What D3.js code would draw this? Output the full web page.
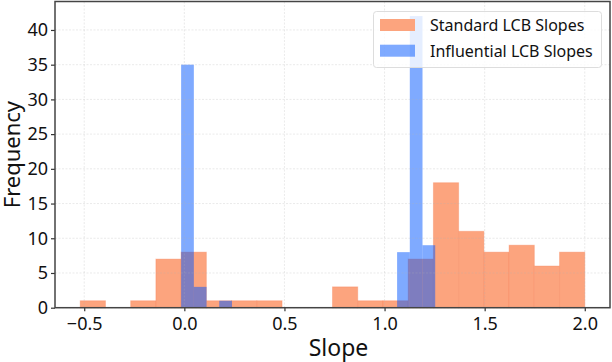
<!DOCTYPE html>
<html>
<head>
<meta charset="utf-8">
<script src="https://d3js.org/d3.v7.min.js"></script>
<style>
  body { margin: 0; background: #fff; }
  text { font-family: "Noto Sans", "Open Sans", sans-serif; fill: #111; }
</style>
</head>
<body>
<div id="chart"></div>
<script>
// histogram counts, 20 bins each
var standardRange = [-0.52, 2.0];
var standardCounts = [1, 0, 1, 7, 8, 1, 1, 1, 0, 0, 3, 1, 1, 7, 18, 11, 8, 9, 6, 8];
var influentialRange = [-0.016, 1.253];
var influentialCounts = [35, 3, 0, 1, 0, 0, 0, 0, 0, 0, 0, 0, 0, 0, 0, 0, 0, 8, 42, 9];
var xTicks = [-0.5, 0.0, 0.5, 1.0, 1.5, 2.0];
var yTicks = [0, 5, 10, 15, 20, 25, 30, 35, 40];
var seriesNames = ["Standard LCB Slopes", "Influential LCB Slopes"];

var width = 612, height = 362;
var margin = {top: 1.5, right: 2, bottom: 54.3, left: 55};

var svg = d3.select("#chart").append("svg")
    .attr("width", width)
    .attr("height", height);

var gw = width - margin.left - margin.right;
var gh = height - margin.top - margin.bottom;

var x = d3.scaleLinear().domain([-0.646, 2.126]).range([0, gw]);
var y = d3.scaleLinear().domain([0, 44.1]).range([gh, 0]);

var g = svg.append("g").attr("transform", "translate(" + margin.left + "," + margin.top + ")");

// turn a range + counts into bins
function toBins(range, counts) {
    var w = (range[1] - range[0]) / counts.length;
    return counts.map(function(c, i) {
        return {x0: range[0] + i * w, x1: range[0] + (i + 1) * w, n: c};
    });
}

var standardBins = toBins(standardRange, standardCounts);
var influentialBins = toBins(influentialRange, influentialCounts);

g.selectAll(".std")
    .data(standardBins.filter(function(d) { return d.n > 0; }))
    .enter().append("rect")
    .attr("class", "std")
    .attr("x", function(d) { return x(d.x0); })
    .attr("y", function(d) { return y(d.n); })
    .attr("width", function(d) { return x(d.x1) - x(d.x0); })
    .attr("height", function(d) { return y(0) - y(d.n); })
    .attr("fill", "#fca47e")
    .attr("stroke", "rgba(245,130,85,0.35)")
    .attr("stroke-width", 1);

g.selectAll(".inf")
    .data(influentialBins.filter(function(d) { return d.n > 0; }))
    .enter().append("rect")
    .attr("class", "inf")
    .attr("x", function(d) { return x(d.x0); })
    .attr("y", function(d) { return y(d.n); })
    .attr("width", function(d) { return x(d.x1) - x(d.x0); })
    .attr("height", function(d) { return y(0) - y(d.n); })
    .attr("fill", "rgba(0,85,255,0.5)");

// grid on top, faint dashed
var grid = g.append("g").attr("stroke", "#b4b4b4").attr("stroke-opacity", 0.35)
    .attr("stroke-width", 0.8).attr("stroke-dasharray", "2,1.5");
grid.selectAll(".gx").data(xTicks).enter().append("line")
    .attr("x1", function(d) { return x(d); }).attr("x2", function(d) { return x(d); })
    .attr("y1", 0).attr("y2", gh);
grid.selectAll(".gy").data(yTicks).enter().append("line")
    .attr("y1", function(d) { return y(d); }).attr("y2", function(d) { return y(d); })
    .attr("x1", 0).attr("x2", gw);

// axes
var xAxis = g.append("g")
    .attr("transform", "translate(0," + gh + ")")
    .call(d3.axisBottom(x).tickValues(xTicks).tickSize(3.5).tickPadding(6)
        .tickFormat(function(d) { return d3.format(".1f")(d).replace("-", "\u2212"); }));
var yAxis = g.append("g")
    .call(d3.axisLeft(y).tickValues(yTicks).tickSize(4).tickPadding(3));

[xAxis, yAxis].forEach(function(a) {
    a.select(".domain").remove();
    a.selectAll(".tick line").attr("stroke", "#333").attr("stroke-width", 1.2);
    a.selectAll(".tick text").attr("font-size", "18px").attr("fill", "#111")
        .style("font-family", "\"Noto Sans\", sans-serif");
});

// frame
g.append("rect")
    .attr("width", gw).attr("height", gh)
    .attr("fill", "none").attr("stroke", "#444").attr("stroke-width", 1.5);

// labels
svg.append("text")
    .attr("x", margin.left + x(0.77)).attr("y", 356)
    .attr("text-anchor", "middle").attr("font-size", "23px")
    .text("Slope");
svg.append("text")
    .attr("transform", "translate(20," + (margin.top + gh / 2) + ") rotate(-90)")
    .attr("text-anchor", "middle").attr("font-size", "22px")
    .text("Frequency");

// legend
var leg = svg.append("g");
leg.append("rect")
    .attr("x", 373.5).attr("y", 11.5).attr("width", 228).attr("height", 56).attr("rx", 3)
    .attr("fill", "rgba(255,255,255,0.8)").attr("stroke", "#ddd").attr("stroke-width", 1);
var legColors = ["#fca47e", "rgba(0,85,255,0.5)"];
seriesNames.forEach(function(name, i) {
    leg.append("rect")
        .attr("x", 380).attr("y", 19 + i * 25.7).attr("width", 35).attr("height", 12)
        .attr("fill", legColors[i]);
    leg.append("text")
        .attr("x", 430).attr("y", 31 + i * 25.7)
        .attr("font-size", "16px")
        .text(name);
});
</script>
</body>
</html>
